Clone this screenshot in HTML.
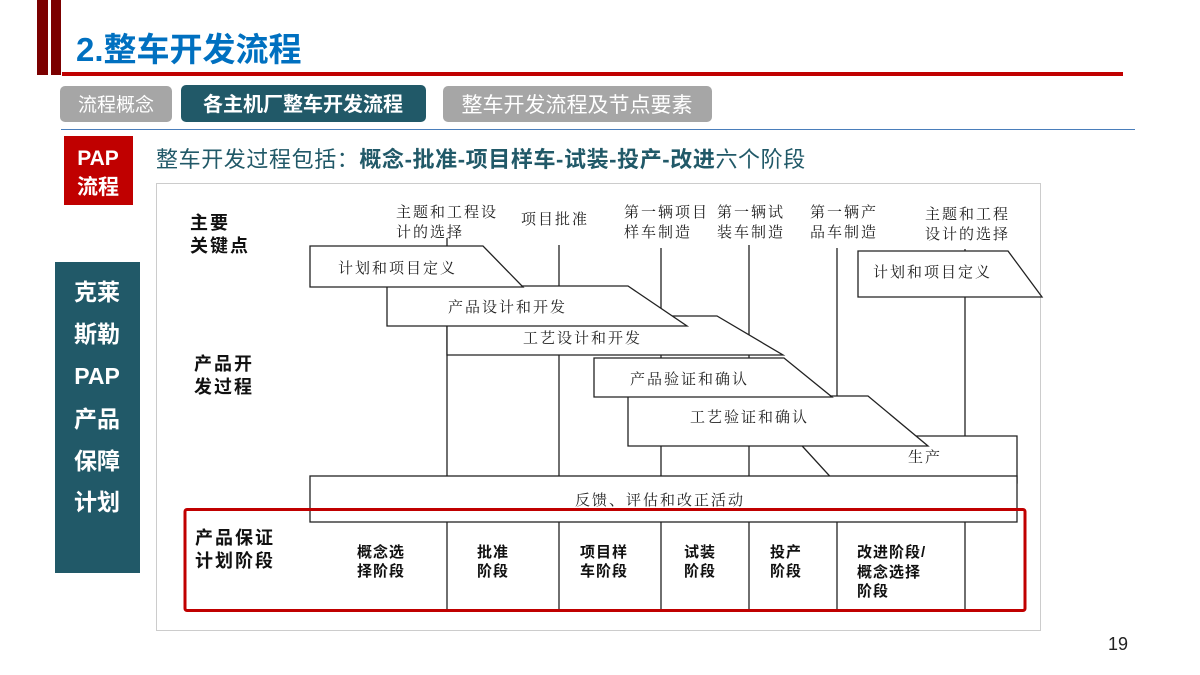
<!DOCTYPE html>
<html><head><meta charset="utf-8"><style>
body{margin:0;width:1200px;height:675px;overflow:hidden;background:#fff}
svg{display:block}
.s{font-family:"Liberation Serif","Noto Serif CJK SC",serif;font-size:15px;letter-spacing:2px;fill:#222}
.b{font-family:"Liberation Sans","Noto Sans CJK SC",sans-serif;font-weight:bold;fill:#111}
</style></head><body>
<svg width="1200" height="675" viewBox="0 0 1200 675" xmlns="http://www.w3.org/2000/svg">
<rect x="37" y="0" width="11" height="75" fill="#7b0000"/>
<rect x="51" y="0" width="10" height="75" fill="#7b0000"/>
<text x="76" y="61" font-family="Liberation Sans,Noto Sans CJK SC,sans-serif" font-weight="bold" font-size="33" fill="#0070c0">2.整车开发流程</text>
<rect x="62" y="72" width="1061" height="4" fill="#c00000"/>
<g font-family="Liberation Sans,Noto Sans CJK SC,sans-serif" font-size="19">
<rect x="60" y="86" width="112" height="36" rx="5" fill="#a6a6a6"/>
<text x="116" y="111" text-anchor="middle" fill="#fff">流程概念</text>
<rect x="181" y="85" width="245" height="37" rx="5" fill="#215968"/>
<text x="303" y="111" text-anchor="middle" fill="#fff" font-weight="bold" font-size="20">各主机厂整车开发流程</text>
<rect x="443" y="86" width="269" height="36" rx="5" fill="#a6a6a6"/>
<text x="577" y="112" text-anchor="middle" fill="#fff" font-size="21">整车开发流程及节点要素</text>
</g>
<rect x="61" y="129" width="1074" height="1" fill="#4a7ebb"/>
<rect x="64" y="136" width="69" height="69" fill="#c00000"/>
<g font-family="Liberation Sans,Noto Sans CJK SC,sans-serif" font-weight="bold" font-size="21" fill="#fff" text-anchor="middle">
<text x="98" y="165">PAP</text><text x="98" y="194">流程</text></g>
<text x="156" y="167" font-family="Liberation Sans,Noto Sans CJK SC,sans-serif" font-size="22" letter-spacing="0.6" fill="#215968">整车开发过程包括：<tspan font-weight="bold">概念-批准-项目样车-试装-投产-改进</tspan>六个阶段</text>
<rect x="55" y="262" width="85" height="311" fill="#215968"/>
<g font-family="Liberation Sans,Noto Sans CJK SC,sans-serif" font-weight="bold" font-size="23" fill="#fff" text-anchor="middle">
<text x="97" y="300">克莱</text><text x="97" y="342">斯勒</text><text x="97" y="384">PAP</text><text x="97" y="427">产品</text><text x="97" y="469">保障</text><text x="97" y="510">计划</text></g>
<text x="1128" y="650" text-anchor="end" font-family="Liberation Sans,sans-serif" font-size="18" fill="#222">19</text>

<rect x="156.5" y="183.5" width="884" height="447" fill="#fff" stroke="#ccc"/>
<g stroke="#222" stroke-width="1.3" fill="none">
<line x1="447" y1="238" x2="447" y2="610"/>
<line x1="559" y1="245" x2="559" y2="610"/>
<line x1="661" y1="248" x2="661" y2="610"/>
<line x1="749" y1="245" x2="749" y2="610"/>
<line x1="837" y1="248" x2="837" y2="610"/>
<line x1="965" y1="249" x2="965" y2="610"/>
</g>
<g stroke="#222" stroke-width="1.3" fill="#fff">
<polygon points="793,436 1017,436 1017,483 836,483"/>
<polygon points="628,396 868,396 928,446 628,446"/>
<polygon points="594,358 784,358 832,397 594,397"/>
<polygon points="447,316 717,316 783,355 447,355"/>
<polygon points="387,286 628,286 687,326 387,326"/>
<polygon points="310,246 483,246 523,287 310,287"/>
<polygon points="858,251 1008,251 1042,297 858,297"/>
<rect x="310" y="476" width="707" height="46"/>
</g>
<g class="s">
<text x="338" y="273">计划和项目定义</text>
<text x="448" y="312">产品设计和开发</text>
<text x="523" y="343">工艺设计和开发</text>
<text x="630" y="384">产品验证和确认</text>
<text x="690" y="422">工艺验证和确认</text>
<text x="908" y="462">生产</text>
<text x="575" y="505">反馈、评估和改正活动</text>
<text x="873" y="277">计划和项目定义</text>
<text x="396" y="217">主题和工程设</text><text x="396" y="237">计的选择</text>
<text x="521" y="224">项目批准</text>
<text x="624" y="217">第一辆项目</text><text x="624" y="237">样车制造</text>
<text x="717" y="217">第一辆试</text><text x="717" y="237">装车制造</text>
<text x="810" y="217">第一辆产</text><text x="810" y="237">品车制造</text>
<text x="925" y="219">主题和工程</text><text x="925" y="239">设计的选择</text>
</g>
<g class="b" font-size="18" letter-spacing="2">
<text x="190" y="229">主要</text><text x="190" y="252">关键点</text>
<text x="194" y="370">产品开</text><text x="194" y="393">发过程</text>
<text x="195" y="544">产品保证</text><text x="195" y="567">计划阶段</text>
</g>
<g class="b" font-size="15" letter-spacing="1">
<text x="357" y="557">概念选</text><text x="357" y="576">择阶段</text>
<text x="477" y="557">批准</text><text x="477" y="576">阶段</text>
<text x="580" y="557">项目样</text><text x="580" y="576">车阶段</text>
<text x="684" y="557">试装</text><text x="684" y="576">阶段</text>
<text x="770" y="557">投产</text><text x="770" y="576">阶段</text>
<text x="857" y="557">改进阶段/</text><text x="857" y="577">概念选择</text><text x="857" y="596">阶段</text>
</g>
<rect x="185" y="509.5" width="840" height="101" fill="none" stroke="#c00000" stroke-width="3" rx="2"/>
</svg>
</body></html>
